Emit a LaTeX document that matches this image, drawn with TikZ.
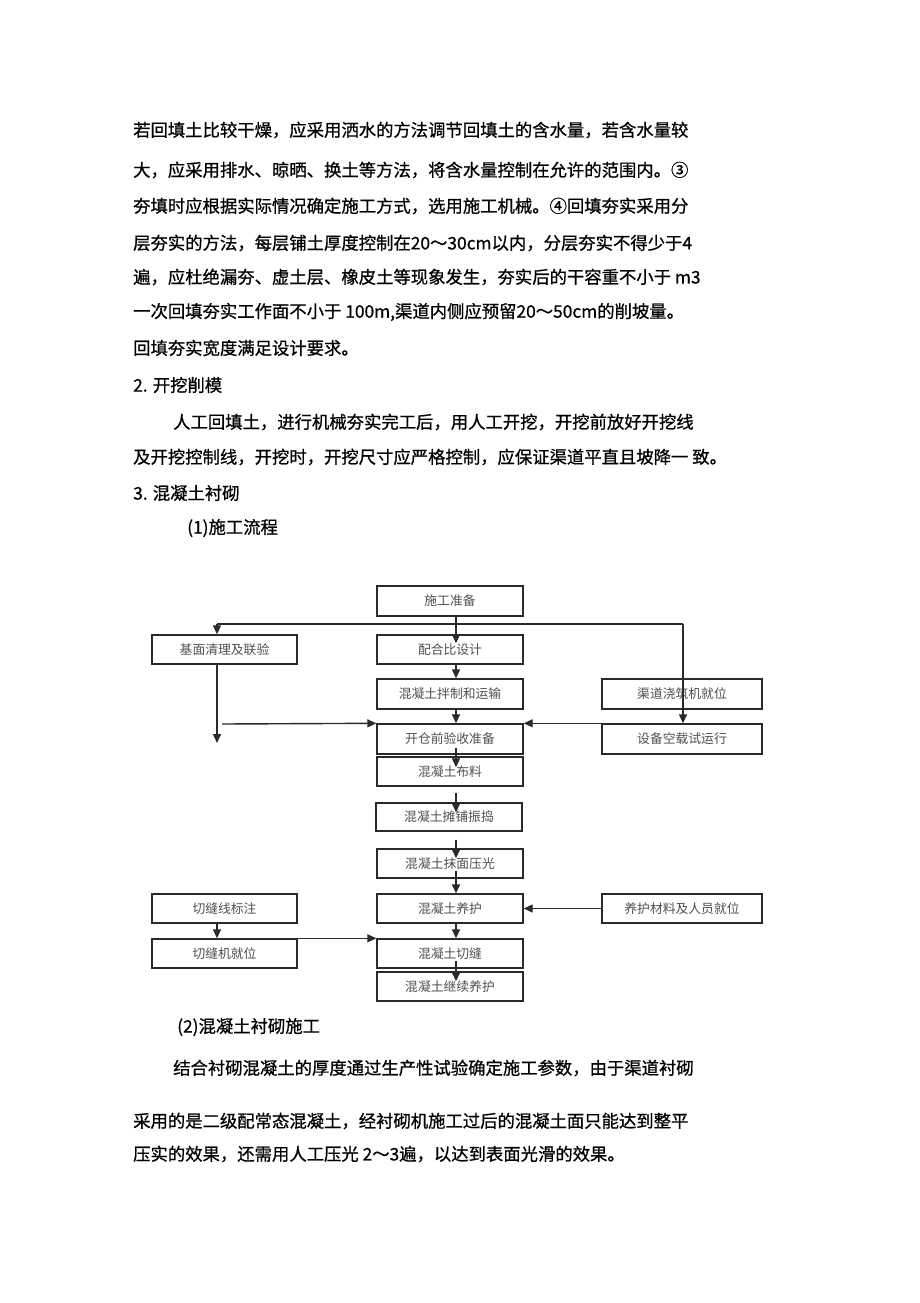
\documentclass[tikz,border=0pt]{standalone}
\usepackage{fontspec}
\setmainfont{Noto Sans CJK SC}
\newfontfamily\cjk{Noto Sans CJK SC}
\newfontfamily\cjkbody[FakeBold=0.8]{Noto Sans CJK SC}
\usetikzlibrary{arrows.meta,calc}
\definecolor{boxline}{HTML}{2A2A2A}
\definecolor{boxtext}{HTML}{505050}
\tikzset{
  para/.style={anchor=west,inner sep=0pt,font=\cjkbody\fontsize{17.35}{20}\selectfont,text=black},
  flowbox/.style={draw=boxline,line width=1.4pt,minimum width=146pt,minimum height=29pt,inner sep=0pt,
    font=\cjk\fontsize{12.8}{14}\selectfont,text=boxtext},
  sidebox/.style={flowbox,minimum width=160pt},
  conn/.style={draw=boxline,line width=1.4pt},
  arr/.style={conn,-{Triangle[length=9pt,width=8pt]}},
  sinkin/.style={shorten >=-#1}
}
\begin{document}
\begin{tikzpicture}[x=1pt,y=-1pt]
\useasboundingbox[fill=white] (0,0) rectangle (920,1303);
% body text
\node[para] (t1) at (133,130) {若回填土比较干燥，应采用洒水的方法调节回填土的含水量，若含水量较};
\node[para] (t2) at (133,170) {大，应采用排水、晾晒、换土等方法，将含水量控制在允许的范围内。③};
\node[para] (t3) at (133,206) {夯填时应根据实际情况确定施工方式，选用施工机械。④回填夯实采用分};
\node[para] (t4) at (133,243) {层夯实的方法，每层铺土厚度控制在20～30cm以内，分层夯实不得少于4};
\node[para] (t5) at (133,277) {遍，应杜绝漏夯、虚土层、橡皮土等现象发生，夯实后的干容重不小于 m3};
\node[para] (t6) at (133,312) {一次回填夯实工作面不小于 100m,渠道内侧应预留20～50cm的削坡量。};
\node[para] (t7) at (133,348) {回填夯实宽度满足设计要求。};
\node[para] (t8) at (133,385) {2. 开挖削模};
\node[para] (t9) at (173,422) {人工回填土，进行机械夯实完工后，用人工开挖，开挖前放好开挖线};
\node[para] (t10) at (133,457) {及开挖控制线，开挖时，开挖尺寸应严格控制，应保证渠道平直且坡降一 致。};
\node[para] (t11) at (133,493) {3. 混凝土衬砌};
\node[para] (t12) at (187,528) {(1)施工流程};
\node[para] (t13) at (177,1027) {(2)混凝土衬砌施工};
\node[para] (t14) at (173,1068) {结合衬砌混凝土的厚度通过生产性试验确定施工参数，由于渠道衬砌};
\node[para] (t15) at (133,1121) {采用的是二级配常态混凝土，经衬砌机施工过后的混凝土面只能达到整平};
\node[para] (t16) at (133,1154) {压实的效果，还需用人工压光 2～3遍，以达到表面光滑的效果。};
% flow boxes
\node[flowbox,minimum height=30pt] (b1) at (450,601) {施工准备};
\node[flowbox] (b2) at (450,649.5) {配合比设计};
\node[flowbox,minimum height=30pt] (b3) at (450,694) {混凝土拌制和运输};
\node[flowbox,minimum height=30pt] (b4) at (450,739) {开仓前验收准备};
\node[flowbox] (b5) at (450,771.5) {混凝土布料};
\node[flowbox,minimum height=28pt] (b6) at (449,817) {混凝土摊铺振捣};
\node[flowbox] (b7) at (450,863.5) {混凝土抹面压光};
\node[flowbox] (b8) at (450,908.5) {混凝土养护};
\node[flowbox] (b9) at (450,953.5) {混凝土切缝};
\node[flowbox] (b10) at (450,986.5) {混凝土继续养护};
\node[flowbox,minimum width=145pt] (l1) at (224.5,649.5) {基面清理及联验};
\node[flowbox,minimum width=145pt] (l2) at (224.5,908.5) {切缝线标注};
\node[flowbox,minimum width=145pt] (l3) at (224.5,953.5) {切缝机就位};
\node[sidebox,minimum height=30pt] (r1) at (682,694) {渠道浇筑机就位};
\node[sidebox,minimum height=30pt] (r2) at (682,739) {设备空载试运行};
\node[sidebox] (r3) at (682,908.5) {养护材料及人员就位};
% helper coordinates
\coordinate (ax) at (456,0);
\coordinate (tl) at (217,624);
\coordinate (tr) at (683,624);
\coordinate (lend) at (217,743);
\coordinate (lstart) at (222,724);
% connectors
\draw[conn] (tl) -- (tr);
\draw[arr] (tl) -- (l1.north -| tl);
\draw[arr] (tr) -- (r2.north -| tr);
\draw[arr] (l1.south -| tl) -- (lend);
\draw[arr] (lstart) -- (b4.north west);
\draw[arr] (r2.north west) -- (b4.north east);
\draw[arr,sinkin=9pt] (b1.south -| ax) -- (b2.north -| ax);
\draw[arr] (b2.south -| ax) -- (b3.north -| ax);
\draw[arr] (b3.south -| ax) -- (b4.north -| ax);
\draw[arr,shorten <=-7pt,sinkin=11pt] (b4.south -| ax) -- (b5.north -| ax);
\draw[arr,sinkin=10pt] ($(b5.south -| ax)+(0,6)$) -- (b6.north -| ax);
\draw[arr,sinkin=10pt] ($(b6.south -| ax)+(0,8)$) -- (b7.north -| ax);
\draw[arr,shorten <=-8pt] (b7.south -| ax) -- (b8.north -| ax);
\draw[arr] (b8.south -| ax) -- (b9.north -| ax);
\draw[arr,shorten <=-8pt,sinkin=10pt] (b9.south -| ax) -- (b10.north -| ax);
\draw[arr] (l2.south -| tl) -- (l3.north -| tl);
\draw[arr] (l3.north east) -- (b9.north west);
\draw[arr] (r3.west) -- (b8.east);
\end{tikzpicture}
\end{document}
